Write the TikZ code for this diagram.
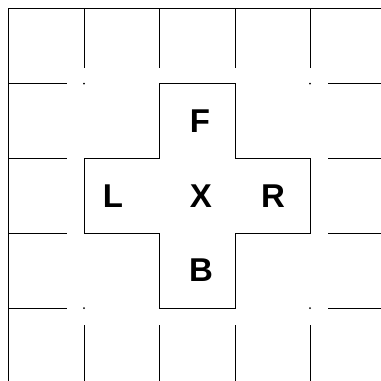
\documentclass[tikz,border=0pt]{standalone}
\usepackage{fontspec}
\setmainfont{Liberation Sans}
\begin{document}
\begin{tikzpicture}[x=1pt,y=-1pt,
  gridline/.style={line width=0.8pt,black},
  letter/.style={inner sep=0pt,font=\fontsize{33}{33}\selectfont\bfseries},
  gapdot/.style={circle,fill=black,inner sep=0pt,minimum size=2pt}]
\useasboundingbox (0,0) rectangle (381,381);
% borders
\draw[gridline] (381,8) -- (8,8) -- (8,381);
% top row verticals
\foreach \x in {84,159,235,310} \draw[gridline] (\x,8) -- (\x,68);
% bottom row verticals
\foreach \x in {84,159,235,310} \draw[gridline] (\x,325) -- (\x,381);
% left column horizontals
\foreach \y in {83.5,158.5,233,308} \draw[gridline] (8,\y) -- (67,\y);
% right column horizontals
\foreach \y in {83.5,158.5,233,308} \draw[gridline] (328,\y) -- (381,\y);
% cross outline
\draw[gridline] (159,83.5) -- (235,83.5) -- (235,158.5) -- (310,158.5) -- (310,233)
  -- (235,233) -- (235,308) -- (159,308) -- (159,233) -- (84,233) -- (84,158.5)
  -- (159,158.5) -- cycle;
% dots
\node[gapdot] (d1) at (84,83.5) {};
\node[gapdot] (d2) at (310,83.5) {};
\node[gapdot] (d3) at (84,308) {};
\node[gapdot] (d4) at (310,308) {};
% letters
\node[letter] (F) at (200,121) {F};
\node[letter] (L) at (113,196) {L};
\node[letter] (X) at (201,196) {X};
\node[letter] (R) at (273,196) {R};
\node[letter] (B) at (201,270) {B};
\end{tikzpicture}
\end{document}
